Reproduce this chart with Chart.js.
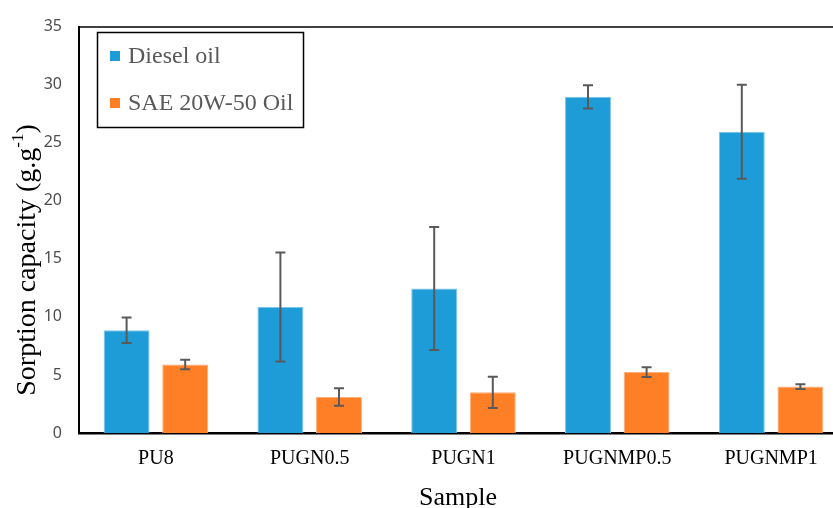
<!DOCTYPE html>
<html>
<head>
<meta charset="utf-8">
<script src="https://cdn.jsdelivr.net/npm/chart.js@4"></script>
<style>
  html, body { margin: 0; padding: 0; background: #fff; overflow: hidden; }
  #wrap { width: 850px; height: 508px; }
</style>
</head>
<body>
<div id="wrap"><canvas id="sorptionChart" width="850" height="508"></canvas></div>
<script>
// Values
const samples = ['PU8', 'PUGN0.5', 'PUGN1', 'PUGNMP0.5', 'PUGNMP1'];
const dieselOil = [8.85, 10.85, 12.45, 28.95, 25.95];
const dieselErr = [1.1, 4.7, 5.3, 1.0, 4.05];
const saeOil = [5.9, 3.1, 3.5, 5.25, 4.0];
const saeErr = [0.4, 0.75, 1.35, 0.42, 0.2];
const yTicks = [0, 5, 10, 15, 20, 25, 30, 35];

const serif = '"Liberation Serif", "Times New Roman", serif';

// error bars on top of each bar
const errorBars = {
    id: 'errorBars',
    afterDatasetsDraw(chart) {
        const ctx = chart.ctx;
        const yScale = chart.scales.y;
        ctx.save();
        ctx.strokeStyle = '#595959';
        ctx.lineWidth = 2;
        chart.data.datasets.forEach((ds, i) => {
            const meta = chart.getDatasetMeta(i);
            meta.data.forEach((bar, j) => {
                const v = ds.data[j];
                const e = ds.errors[j];
                const top = yScale.getPixelForValue(v + e);
                const bottom = yScale.getPixelForValue(v - e);
                ctx.beginPath();
                ctx.moveTo(bar.x, top);
                ctx.lineTo(bar.x, bottom);
                ctx.moveTo(bar.x - 5, top);
                ctx.lineTo(bar.x + 5, top);
                ctx.moveTo(bar.x - 5, bottom);
                ctx.lineTo(bar.x + 5, bottom);
                ctx.stroke();
            });
        });
        ctx.restore();
    }
};

// frame line, axis titles and the boxed legend
const decorations = {
    id: 'decorations',
    afterDraw(chart) {
        const ctx = chart.ctx;
        const area = chart.chartArea;
        ctx.save();

        // top frame line
        ctx.strokeStyle = '#000';
        ctx.lineWidth = 1.5;
        ctx.beginPath();
        ctx.moveTo(area.left - 1, area.top + 0.5);
        ctx.lineTo(area.right, area.top + 0.5);
        ctx.stroke();

        // y title with superscript
        ctx.translate(28, 260);
        ctx.rotate(-Math.PI / 2);
        ctx.fillStyle = '#000';
        ctx.textBaseline = 'middle';
        const mainFont = '28px ' + serif;
        const supFont = '17px ' + serif;
        ctx.font = mainFont;
        const partA = 'Sorption capacity (g.g';
        const partC = ')';
        const wA = ctx.measureText(partA).width;
        const wC = ctx.measureText(partC).width;
        ctx.font = supFont;
        const wB = ctx.measureText('-1').width;
        let x = -(wA + wB + wC) / 2;
        ctx.font = mainFont;
        ctx.textAlign = 'left';
        ctx.fillText(partA, x, 0);
        x += wA;
        ctx.font = supFont;
        ctx.fillText('-1', x, -9);
        x += wB;
        ctx.font = mainFont;
        ctx.fillText(partC, x, 0);
        ctx.setTransform(1, 0, 0, 1, 0, 0);

        // x title
        ctx.font = '26px ' + serif;
        ctx.textAlign = 'center';
        ctx.textBaseline = 'alphabetic';
        ctx.fillText('Sample', 458, 505);

        // legend box
        ctx.lineWidth = 1.5;
        ctx.strokeStyle = '#000';
        ctx.strokeRect(97.5, 32.5, 206, 95);
        ctx.font = '24px ' + serif;
        ctx.textAlign = 'left';
        ctx.textBaseline = 'middle';
        const rows = [56, 103];
        chart.data.datasets.forEach((ds, i) => {
            ctx.fillStyle = ds.backgroundColor;
            ctx.fillRect(110, rows[i] - 5, 10, 10);
            ctx.fillStyle = '#595959';
            ctx.fillText(ds.label, 128, rows[i] + 1);
        });
        ctx.restore();
    }
};

const ctx = document.getElementById('sorptionChart').getContext('2d');
new Chart(ctx, {
    type: 'bar',
    data: {
        labels: samples,
        datasets: [
            {
                label: 'Diesel oil',
                data: dieselOil,
                errors: dieselErr,
                backgroundColor: '#1E9CD8',
                borderColor: '#7CC4EA',
                borderWidth: 1,
                categoryPercentage: 0.762,
                barPercentage: 0.784
            },
            {
                label: 'SAE 20W-50 Oil',
                data: saeOil,
                errors: saeErr,
                backgroundColor: '#FF7F27',
                borderColor: '#FFB07A',
                borderWidth: 1,
                categoryPercentage: 0.762,
                barPercentage: 0.784
            }
        ]
    },
    options: {
        responsive: false,
        animation: false,
        layout: { padding: { top: 17, left: 0, right: 2, bottom: 0 } },
        plugins: {
            legend: { display: false },
            tooltip: { enabled: false }
        },
        scales: {
            x: {
                grid: { display: false, drawTicks: false },
                border: { color: '#000', width: 2.5 },
                ticks: {
                    color: '#000',
                    padding: 14,
                    font: { family: serif, size: 20 }
                },
                afterFit(scale) { scale.height = 75; }
            },
            y: {
                min: 0,
                max: 35,
                grid: { display: false, drawTicks: false },
                border: { color: '#000', width: 2 },
                afterBuildTicks(scale) {
                    scale.ticks = yTicks.map(v => ({ value: v }));
                },
                ticks: {
                    color: '#4d4d4d',
                    padding: 17,
                    font: { family: '"Noto Sans", sans-serif', size: 16 }
                },
                afterFit(scale) { scale.width = 79; }
            }
        }
    },
    plugins: [errorBars, decorations]
});
</script>
</body>
</html>
